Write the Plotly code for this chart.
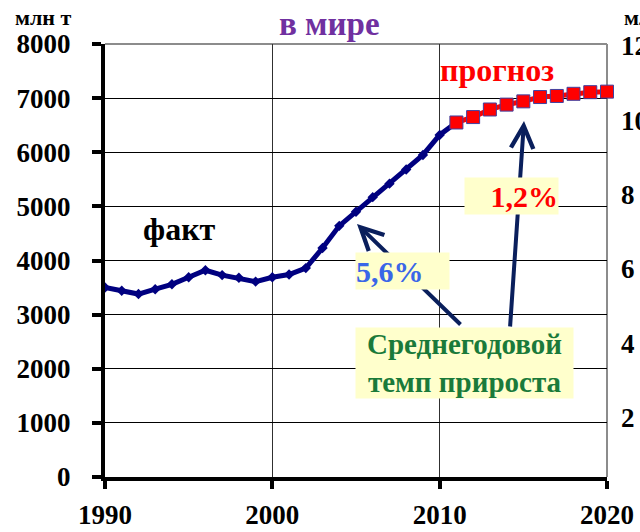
import plotly.graph_objects as go

# ---------------- data ----------------
fact_years = list(range(1990, 2012))
fact_values = [3500, 3440, 3380, 3470, 3560, 3690, 3820, 3730, 3680, 3610, 3690,
               3740, 3860, 4230, 4640, 4900, 5170, 5420, 5680, 5950, 6320, 6550]
forecast_years = list(range(2011, 2021))
forecast_values = [6550, 6650, 6790, 6880, 6940, 7020, 7040, 7080, 7110, 7120]

x_ticks = [1990, 2000, 2010, 2020]
y_ticks = [0, 1000, 2000, 3000, 4000, 5000, 6000, 7000, 8000]
right_ticks = [2, 4, 6, 8, 10, 12]

title_text = "в мире"
left_unit = "млн т"
right_unit = "млн т"
fact_label = "факт"
forecast_label = "прогноз"
rate_fact = "5,6%"
rate_forecast = "1,2%"
rate_caption = "Среднегодовой<br>темп прироста"

# ---------------- layout geometry (pixels) ----------------
W, H = 640, 532
L, R, T, B = 105, 33, 44, 55
PW, PH = W - L - R, H - T - B


def px(x):
    return (x - L) / PW


def py(y):
    return (H - B - y) / PH


FONT = "'Liberation Serif', 'Times New Roman', 'DejaVu Serif', serif"
NAVY = "#000080"
ARROW = "#0A1F5C"

fig = go.Figure()

fig.add_trace(go.Scatter(
    x=fact_years, y=fact_values, mode="lines+markers",
    line=dict(color=NAVY, width=5),
    marker=dict(symbol="diamond", size=8, color=NAVY),
    showlegend=False, hoverinfo="skip"))

fig.add_trace(go.Scatter(
    x=forecast_years, y=forecast_values, mode="lines+markers",
    line=dict(color="#FF0000", width=5),
    marker=dict(symbol="square", size=13, color="#FF0000",
                line=dict(color="#4040A0", width=1)),
    showlegend=False, hoverinfo="skip", cliponaxis=False))

# empty trace so that the right axis is drawn
fig.add_trace(go.Scatter(x=[], y=[], yaxis="y2", showlegend=False, hoverinfo="skip"))

tickfont = dict(family=FONT, size=27, color="black", weight="bold")

fig.update_layout(
    width=W, height=H, autosize=False, template="none",
    font=dict(family=FONT),
    margin=dict(l=L, r=R, t=T, b=B, pad=0),
    paper_bgcolor="white", plot_bgcolor="white",
    showlegend=False,
    xaxis=dict(range=[1990, 2020], tickvals=x_ticks, ticks="outside",
               ticklen=8, tickwidth=4, tickcolor="black",
               showline=True, linewidth=4, linecolor="black",
               showgrid=True, gridcolor="#303030", gridwidth=1,
               zeroline=False, tickfont=tickfont, ticklabelstandoff=3,
               automargin=False, fixedrange=True),
    yaxis=dict(range=[0, 8000], tickvals=y_ticks, ticks="outside",
               ticklen=9, tickwidth=4, tickcolor="black",
               showline=True, linewidth=4, linecolor="black",
               showgrid=True, gridcolor="black", gridwidth=1,
               zeroline=False, tickfont=tickfont, ticklabelstandoff=16,
               automargin=False, fixedrange=True),
    yaxis2=dict(range=[0.4, 12.05], tickvals=right_ticks, overlaying="y",
                side="right", anchor="x", ticks="", showline=False,
                showgrid=False, zeroline=False, tickfont=tickfont,
                ticklabelstandoff=13, automargin=False, fixedrange=True),
)

# gray top / right border
fig.add_shape(type="line", xref="paper", yref="paper", x0=0, x1=1, y0=1, y1=1,
              line=dict(color="#8C8C8C", width=2), layer="between")
fig.add_shape(type="line", xref="paper", yref="paper", x0=1, x1=1, y0=0, y1=1,
              line=dict(color="#8C8C8C", width=2), layer="between")

ann = []
# arrows (drawn first so boxes cover them)
ann.append(dict(xref="paper", yref="paper", x=px(357), y=py(224), text="",
                showarrow=True, ax=462 - 357, ay=326 - 224, axref="pixel", ayref="pixel",
                arrowhead=5, arrowsize=1.1, arrowwidth=4, arrowcolor=ARROW, standoff=0))
ann.append(dict(xref="paper", yref="paper", x=px(524), y=py(121), text="",
                showarrow=True, ax=510 - 524, ay=328 - 121, axref="pixel", ayref="pixel",
                arrowhead=5, arrowsize=1.1, arrowwidth=4, arrowcolor=ARROW, standoff=0))

# boxes with text
ann.append(dict(xref="paper", yref="paper", x=px(355), y=py(252), xanchor="left", yanchor="top",
                text=rate_fact, showarrow=False, bgcolor="#FFFFCC", width=93, height=36,
                align="left", valign="middle", borderpad=0,
                font=dict(family=FONT, size=30, color="#3A66E8", weight="bold")))
ann.append(dict(xref="paper", yref="paper", x=px(464), y=py(177), xanchor="left", yanchor="top",
                text=rate_forecast, showarrow=False, bgcolor="#FFFFCC", width=93, height=36,
                align="right", valign="middle", borderpad=0,
                font=dict(family=FONT, size=30, color="#FF0000", weight="bold")))
ann.append(dict(xref="paper", yref="paper", x=px(355), y=py(327), xanchor="left", yanchor="top",
                text=rate_caption, showarrow=False, bgcolor="#FFFFCC", width=217, height=70,
                align="center", valign="middle", borderpad=0,
                font=dict(family=FONT, size=29, color="#1A7A3A", weight="bold")))

# text labels
ann.append(dict(xref="paper", yref="paper", x=px(329), y=py(24), text=title_text,
                showarrow=False, xanchor="center", yanchor="middle",
                font=dict(family=FONT, size=33, color="#7030A0", weight="bold")))
ann.append(dict(xref="paper", yref="paper", x=px(13), y=py(18), text=left_unit,
                showarrow=False, xanchor="left", yanchor="middle",
                font=dict(family=FONT, size=22, color="black", weight="bold")))
ann.append(dict(xref="paper", yref="paper", x=px(622), y=py(18), text=right_unit,
                showarrow=False, xanchor="left", yanchor="middle",
                font=dict(family=FONT, size=22, color="black", weight="bold")))
ann.append(dict(xref="paper", yref="paper", x=px(179), y=py(229), text=fact_label,
                showarrow=False, xanchor="center", yanchor="middle",
                font=dict(family=FONT, size=32, color="black", weight="bold")))
ann.append(dict(xref="paper", yref="paper", x=px(497), y=py(70), text=forecast_label,
                showarrow=False, xanchor="center", yanchor="middle",
                font=dict(family=FONT, size=32, color="#FF0000", weight="bold")))

fig.update_layout(annotations=ann)

fig.write_html("out.html", config={"displayModeBar": False},
               post_script="document.body.style.margin='0';document.body.style.overflow='hidden';")
